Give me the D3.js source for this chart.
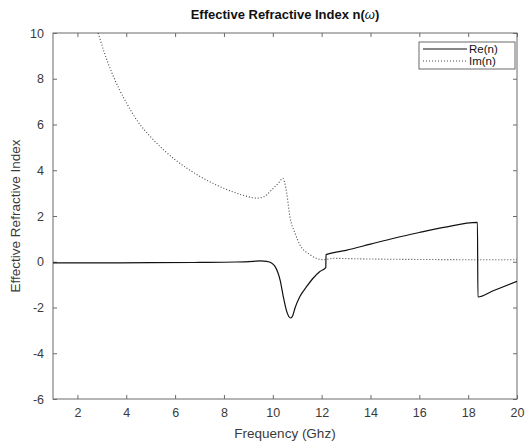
<!DOCTYPE html>
<html>
<head>
<meta charset="utf-8">
<script src="https://cdn.jsdelivr.net/npm/d3@7"></script>
<style>
  html, body { margin: 0; padding: 0; background: #fff; }
  svg { display: block; font-family: "Liberation Sans", Arial, sans-serif; }
</style>
</head>
<body>
<svg id="chart" width="526" height="446"></svg>
<script>
// Frequency samples (GHz) and the real / imaginary parts of the effective index
const reFreq = [1, 3, 5, 7, 8.5, 9.2, 9.5, 9.75, 9.95, 10.09, 10.2, 10.3, 10.43, 10.57, 10.65, 10.73, 10.82, 10.91, 11.11, 11.39, 11.66, 11.93, 12.17,
                12.18, 13, 14, 15, 16, 17, 18.38,
                18.4, 19, 20];
const reVals = [-0.05, -0.05, -0.04, -0.03, -0.01, 0.02, 0.04, 0.02, -0.05, -0.2, -0.45, -0.8, -1.52, -2.17, -2.38, -2.46, -2.35, -2.02, -1.52, -1.08, -0.71, -0.43, -0.26,
                0.31, 0.5, 0.77, 1.04, 1.28, 1.5, 1.72,
                -1.54, -1.28, -0.86];

const imFreq = [2.85, 3.1, 3.4, 3.7, 4.0, 4.49, 5.0, 5.5, 6.0, 6.61, 7.02, 7.7, 8.38, 8.9, 9.34, 9.65, 9.89, 10.1, 10.23, 10.33, 10.41, 10.49, 10.57, 10.7, 10.91, 11.11, 11.52, 12.07,
                12.5, 13, 14, 16, 18, 20];
const imVals = [10, 9.15, 8.29, 7.57, 6.96, 6.1, 5.46, 4.92, 4.46, 4.0, 3.73, 3.35, 3.05, 2.87, 2.78, 2.85, 3.07, 3.3, 3.44, 3.58, 3.65, 3.45, 3.0, 1.98, 1.25, 0.74, 0.31, 0.09,
                0.15, 0.14, 0.12, 0.1, 0.09, 0.09];

const xTicks = [2, 4, 6, 8, 10, 12, 14, 16, 18, 20];
const yTicks = [-6, -4, -2, 0, 2, 4, 6, 8, 10];
const seriesNames = ["Re(n)", "Im(n)"];

const svg = d3.select("#chart");
const m = { left: 53, right: 517, top: 33, bottom: 399 };

const x = d3.scaleLinear().domain([1, 20]).range([m.left, m.right]);
const y = d3.scaleLinear().domain([-6, 10]).range([m.bottom, m.top]);

const axisColor = "#6b6b6b";
const textColor = "#3a3a3a";
const tickLen = 4;
const plainNum = d => String(d);

// Clip the curves to the axes box
svg.append("clipPath").attr("id", "plotClip")
  .append("rect").attr("x", m.left).attr("y", m.top)
  .attr("width", m.right - m.left).attr("height", m.bottom - m.top);

// Axes: ticks drawn inward on all four sides
function styleAxis(g) {
  g.select(".domain").remove();
  g.selectAll(".tick line").attr("stroke", axisColor);
  g.selectAll(".tick text").attr("fill", textColor).style("font-size", "12.5px")
    .style("font-family", "'Liberation Sans', Arial, sans-serif");
}

svg.append("g").attr("transform", `translate(0,${m.bottom})`)
  .call(d3.axisBottom(x).tickValues(xTicks).tickFormat(plainNum).tickSizeInner(-tickLen).tickSizeOuter(0).tickPadding(9))
  .call(styleAxis);
svg.append("g").attr("transform", `translate(0,${m.top})`)
  .call(d3.axisTop(x).tickValues(xTicks).tickSizeInner(-tickLen).tickSizeOuter(0).tickFormat(""))
  .call(styleAxis);
svg.append("g").attr("transform", `translate(${m.left},0)`)
  .call(d3.axisLeft(y).tickValues(yTicks).tickFormat(plainNum).tickSizeInner(-tickLen).tickSizeOuter(0).tickPadding(9))
  .call(styleAxis);
svg.append("g").attr("transform", `translate(${m.right},0)`)
  .call(d3.axisRight(y).tickValues(yTicks).tickSizeInner(-tickLen).tickSizeOuter(0).tickFormat(""))
  .call(styleAxis);

// Box
svg.append("rect")
  .attr("x", m.left).attr("y", m.top)
  .attr("width", m.right - m.left).attr("height", m.bottom - m.top)
  .attr("fill", "none").attr("stroke", axisColor).attr("stroke-width", 1);

// Curves
const line = d3.line().x(d => x(d[0])).y(d => y(d[1])).curve(d3.curveMonotoneX);
const reData = reFreq.map((f, i) => [f, reVals[i]]);
const imData = imFreq.map((f, i) => [f, imVals[i]]);

const curves = svg.append("g").attr("clip-path", "url(#plotClip)");
curves.append("path").datum(imData)
  .attr("d", line)
  .attr("fill", "none").attr("stroke", "#444").attr("stroke-width", 1.1)
  .attr("stroke-dasharray", "1,2");
curves.append("path").datum(reData)
  .attr("d", line)
  .attr("fill", "none").attr("stroke", "#111").attr("stroke-width", 1.2);

// Title
const title = svg.append("text")
  .attr("x", (m.left + m.right) / 2).attr("y", 19)
  .attr("text-anchor", "middle").attr("fill", "#111")
  .style("font-size", "13px").style("font-weight", "bold");
title.append("tspan").text("Effective Refractive Index n(");
title.append("tspan").text("ω").style("font-style", "italic").style("font-weight", "normal");
title.append("tspan").text(")");

// Axis labels
svg.append("text")
  .attr("x", (m.left + m.right) / 2).attr("y", 438)
  .attr("text-anchor", "middle").attr("fill", textColor)
  .style("font-size", "13.5px").text("Frequency (Ghz)");
svg.append("text")
  .attr("transform", `translate(20,${(m.top + m.bottom) / 2}) rotate(-90)`)
  .attr("text-anchor", "middle").attr("fill", textColor)
  .style("font-size", "13.5px").text("Effective Refractive Index");

// Legend
const lg = svg.append("g");
lg.append("rect").attr("x", 419).attr("y", 42).attr("width", 96).attr("height", 27)
  .attr("fill", "#fff").attr("stroke", axisColor).attr("stroke-width", 1);
const legendStyles = [
  { stroke: "#111", dash: null, width: 1.2 },
  { stroke: "#444", dash: "1,2", width: 1.1 }
];
seriesNames.forEach((name, i) => {
  const ly = 49 + i * 12;
  lg.append("line").attr("x1", 423).attr("x2", 467).attr("y1", ly).attr("y2", ly)
    .attr("stroke", legendStyles[i].stroke).attr("stroke-width", legendStyles[i].width)
    .attr("stroke-dasharray", legendStyles[i].dash);
  lg.append("text").attr("x", 469).attr("y", ly + 4)
    .attr("fill", "#111").style("font-size", "11.5px").text(name);
});
</script>
</body>
</html>
